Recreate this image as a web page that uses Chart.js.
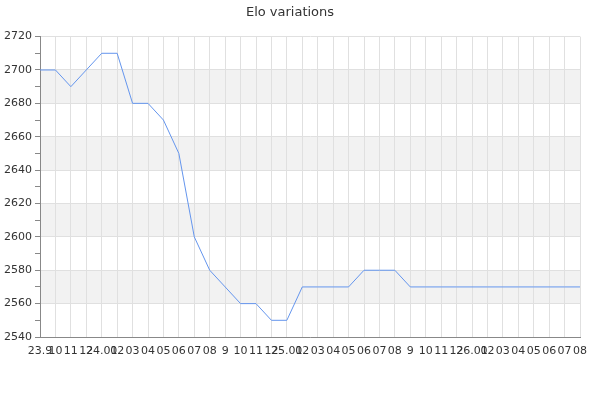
<!DOCTYPE html>
<html>
<head>
<meta charset="utf-8">
<script src="https://cdn.jsdelivr.net/npm/chart.js@4/dist/chart.umd.min.js"></script>
<style>
  html, body { margin: 0; padding: 0; background: #fff; }
  #wrap { width: 600px; height: 400px; }
</style>
</head>
<body>
<div id="wrap"><canvas id="eloChart"></canvas></div>
<script>
// x labels (month marks)
const labels = ['23.9', '10', '11', '12',
  '24.01', '02', '03', '04', '05', '06', '07', '08', '9', '10', '11', '12',
  '25.01', '02', '03', '04', '05', '06', '07', '08', '9', '10', '11', '12',
  '26.01', '02', '03', '04', '05', '06', '07', '08'];

// elo rating per month
const elo = [2700, 2700, 2690, 2700, 2710, 2710, 2680, 2680, 2670, 2650,
  2600, 2580, 2570, 2560, 2560, 2550, 2550, 2570, 2570, 2570, 2570,
  2580, 2580, 2580, 2570, 2570, 2570, 2570, 2570, 2570, 2570, 2570,
  2570, 2570, 2570, 2570];

// shaded bands on the y axis
const bands = [[2680, 2700], [2640, 2660], [2600, 2620], [2560, 2580]];

const yMin = 2540;
const yMax = 2720;

const bandPlugin = {
  id: 'bands',
  beforeDraw(chart) {
    const ctx = chart.ctx;
    const area = chart.chartArea;
    const y = chart.scales.y;
    ctx.save();
    ctx.fillStyle = '#f2f2f2';
    bands.forEach(b => {
      const top = y.getPixelForValue(b[1]);
      const bottom = y.getPixelForValue(b[0]);
      ctx.fillRect(area.left, top, area.right - area.left, bottom - top);
    });
    ctx.restore();
  }
};

const ctx = document.getElementById('eloChart').getContext('2d');
new Chart(ctx, {
  type: 'line',
  data: {
    labels: labels,
    datasets: [{
      label: 'Elo',
      data: elo,
      borderColor: '#6495ed',
      borderWidth: 1,
      pointRadius: 0,
      tension: 0,
      fill: false
    }]
  },
  options: {
    responsive: true,
    maintainAspectRatio: false,
    animation: false,
    layout: { padding: { top: 0, right: 20, bottom: 0, left: 0 } },
    plugins: {
      legend: { display: false },
      tooltip: { enabled: false },
      title: {
        display: true,
        text: 'Elo variations',
        color: '#333',
        font: { family: 'DejaVu Sans', size: 13, weight: 'normal' },
        padding: { top: 5, bottom: 16 }
      }
    },
    scales: {
      x: {
        offset: false,
        grid: {
          color: '#e0e0e0',
          drawTicks: false
        },
        border: { color: '#888', width: 1 },
        ticks: {
          autoSkip: false,
          maxRotation: 0,
          minRotation: 0,
          padding: 8,
          color: '#333',
          font: { family: 'DejaVu Sans', size: 11 }
        },
        afterFit(scale) { scale.height = 63; }
      },
      y: {
        min: yMin,
        max: yMax,
        grid: {
          color: ctx => (ctx.tick && ctx.tick.value % 20 === 0) ? '#e0e0e0' : 'rgba(0,0,0,0)',
          tickColor: '#888',
          tickLength: 5
        },
        border: { color: '#888', width: 1 },
        ticks: {
          stepSize: 10,
          padding: 3,
          color: '#333',
          font: { family: 'DejaVu Sans', size: 11 },
          callback: v => (v % 20 === 0 ? v : '')
        },
        afterFit(scale) { scale.width = 40; }
      }
    }
  },
  plugins: [bandPlugin]
});
</script>
</body>
</html>
